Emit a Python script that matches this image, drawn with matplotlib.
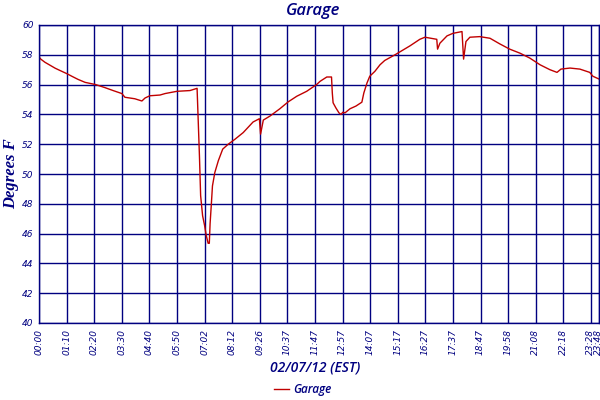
import matplotlib
matplotlib.use("Agg")
import matplotlib.pyplot as plt

# sample index (roughly minutes of logging) and temperature (deg F)
sample_idx = [0, 5, 15, 28, 41, 53, 71, 84, 99, 117, 144, 167, 188, 210, 218, 243,
              261, 269, 281, 307, 320, 350, 383, 401, 407, 410, 415, 420, 424, 429,
              432, 434, 437, 440, 446, 455, 466, 480, 497, 518, 543, 559, 562, 569,
              586, 611, 632, 654, 679, 704, 713, 730, 742, 744, 746, 753, 761, 766,
              771, 776, 789, 804, 819, 824, 832, 839, 852, 865, 877, 903, 922, 941,
              966, 979, 1009, 1011, 1017, 1035, 1050, 1073, 1077, 1083, 1093, 1118,
              1144, 1169, 1194, 1220, 1245, 1271, 1296, 1314, 1324, 1347, 1372, 1397,
              1405, 1420]
temps = [57.85, 57.7, 57.5, 57.3, 57.1, 56.95, 56.73, 56.55, 56.35, 56.15, 56.0,
         55.8, 55.6, 55.4, 55.15, 55.05, 54.9, 55.1, 55.25, 55.3, 55.4, 55.55, 55.6,
         55.75, 51.2, 48.55, 47.2, 46.55, 45.9, 45.35, 45.35, 46.67, 47.9, 49.2,
         50.1, 50.9, 51.67, 52.0, 52.33, 52.78, 53.49, 53.71, 52.67, 53.62, 53.89,
         54.38, 54.84, 55.22, 55.55, 56.0, 56.22, 56.51, 56.51, 55.44, 54.78, 54.44,
         54.1, 54.0, 54.15, 54.1, 54.38, 54.56, 54.82, 55.44, 56.11, 56.56, 56.89,
         57.33, 57.62, 58.0, 58.3, 58.6, 59.04, 59.18, 59.04, 58.38, 58.78, 59.27,
         59.44, 59.56, 57.71, 58.89, 59.18, 59.22, 59.11, 58.73, 58.38, 58.11, 57.78,
         57.33, 57.0, 56.82, 57.04, 57.11, 57.04, 56.82, 56.56, 56.38]

tick_pos = [0, 70, 140, 210, 280, 350, 420, 490, 560, 630, 700, 770, 840, 910,
            980, 1050, 1120, 1190, 1260, 1330, 1400, 1420]
tick_labels = ["00:00", "01:10", "02:20", "03:30", "04:40", "05:50", "07:02",
               "08:12", "09:26", "10:37", "11:47", "12:57", "14:07", "15:17",
               "16:27", "17:37", "18:47", "19:58", "21:08", "22:18", "23:28", "23:48"]
y_ticks = list(range(40, 61, 2))

navy = "#000080"
red = "#c00000"

fig = plt.figure(figsize=(6, 4), dpi=100)
ax = fig.add_axes([0.065, 0.1925, 0.933, 0.745])
ax.plot(sample_idx, temps, color=red, linewidth=1.0, label="Garage")
ax.set_xlim(0, 1420)
ax.set_ylim(40, 60)
ax.set_xticks(tick_pos)
ax.set_xticklabels(tick_labels, rotation=90, fontsize=6.5, style="italic", color=navy)
ax.set_yticks(y_ticks)
ax.set_yticklabels([str(v) for v in y_ticks], fontsize=6.5, style="italic", color=navy)
ax.tick_params(length=0, pad=4)
ax.grid(True, color=navy, linewidth=1.0)
ax.set_axisbelow(True)
for s in ax.spines.values():
    s.set_color(navy)
    s.set_linewidth(1.0)

fig.text(0.522, 0.972, "Garage", ha="center", va="center", fontsize=12,
         style="italic", fontweight="semibold", color=navy, family="Open Sans")
fig.text(0.525, 0.08, "02/07/12 (EST)", ha="center", va="center", fontsize=10,
         style="italic", fontweight="semibold", color=navy, family="Open Sans")
fig.text(0.018, 0.565, "Degrees F", ha="center", va="center", rotation=90,
         fontsize=12, style="italic", fontweight="bold", color=navy,
         family="Liberation Serif")
fig.legend(loc="center", bbox_to_anchor=(0.505, 0.027), frameon=False,
           prop={"style": "italic", "size": 8.5, "family": "Open Sans",
                 "weight": "semibold"},
           labelcolor=navy, handlelength=1.2, handletextpad=0.4)

fig.savefig("out.png", dpi=100)
